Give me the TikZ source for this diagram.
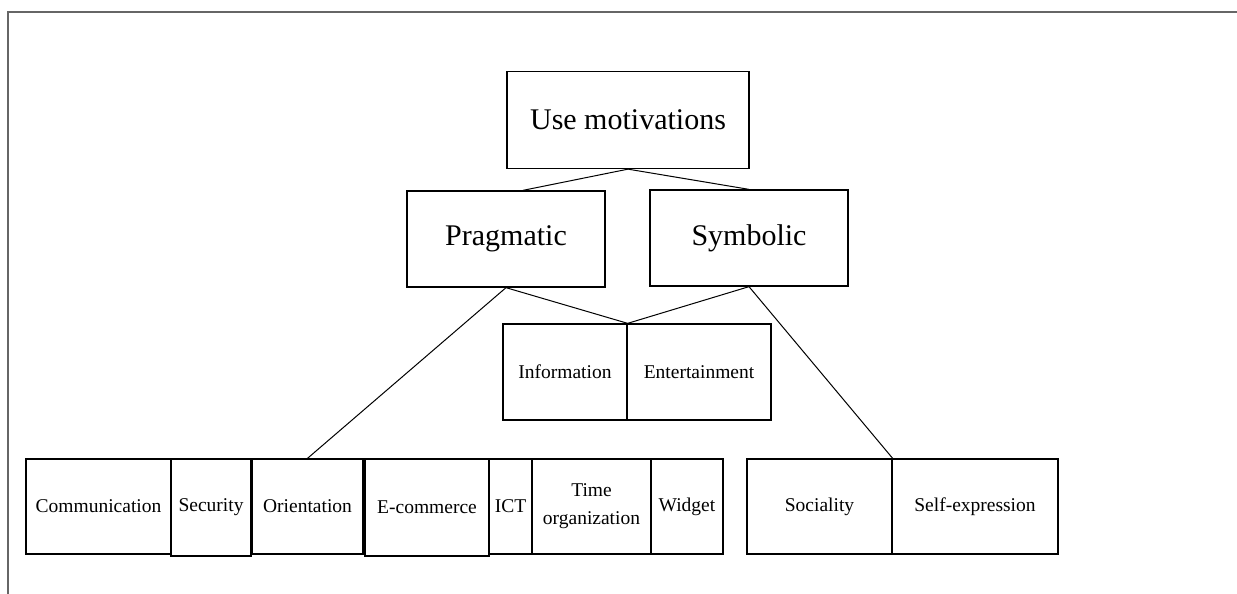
\documentclass[tikz,border=0pt]{standalone}
\usepackage{fontspec}
\setmainfont{Liberation Serif}

\begin{document}
\begin{tikzpicture}[
  x=1pt,y=-1pt,
  box/.style={draw,line width=1.3pt,inner sep=2pt,minimum height=96pt,font=\fontsize{30}{36}\selectfont},
  cell/.style={draw,line width=1.3pt,inner sep=2pt,minimum height=95pt,align=center,font=\fontsize{19.5}{28}\selectfont},
  link/.style={line width=1pt},
  frame/.style={line width=2pt,black!60}
]
  \useasboundingbox (0,0) rectangle (1237,594);
  \draw[frame] (8,594) -- (8,12) -- (1237,12);

  \node[box,minimum width=242pt,minimum height=97pt] (use) at (628,120) {Use motivations};
  \node[box,minimum width=198pt] (prag) at (506,239) {Pragmatic};
  \node[box,minimum width=198pt] (symb) at (749,238) {Symbolic};

  \node[cell,minimum width=124pt,minimum height=96pt] (info) at (565,372) {Information};
  \node[cell,minimum width=144pt,minimum height=96pt] (ent) at (699,372) {Entertainment};

  \node[cell,minimum width=145pt] (comm) at (98.5,506.5) {Communication};
  \node[cell,minimum width=80pt,minimum height=97pt] (sec) at (211,507.5) {Security};
  \node[cell,minimum width=111pt] (ori) at (307.5,506.5) {Orientation};
  \node[cell,minimum width=124pt,minimum height=97pt] (ecom) at (427,507.5) {E-commerce};
  \node[cell,minimum width=43pt] (ict) at (510.5,506.5) {ICT};
  \node[cell,minimum width=119pt] (time) at (591.5,506.5) {Time\\organization};
  \node[cell,minimum width=72pt] (wid) at (687,506.5) {Widget};
  \node[cell,minimum width=145pt] (soc) at (819.5,506.5) {Sociality};
  \node[cell,minimum width=166pt] (self) at (975,506.5) {Self-expression};

  \draw[link] (use.south) -- ([xshift=17pt]prag.north);
  \draw[link] (use.south) -- (symb.north);
  \draw[link] (prag.south) -- (info.north east);
  \draw[link] (symb.south) -- (info.north east);
  \draw[link] (prag.south) -- (ori.north);
  \draw[link] (symb.south) -- (soc.north east);
\end{tikzpicture}
\end{document}
